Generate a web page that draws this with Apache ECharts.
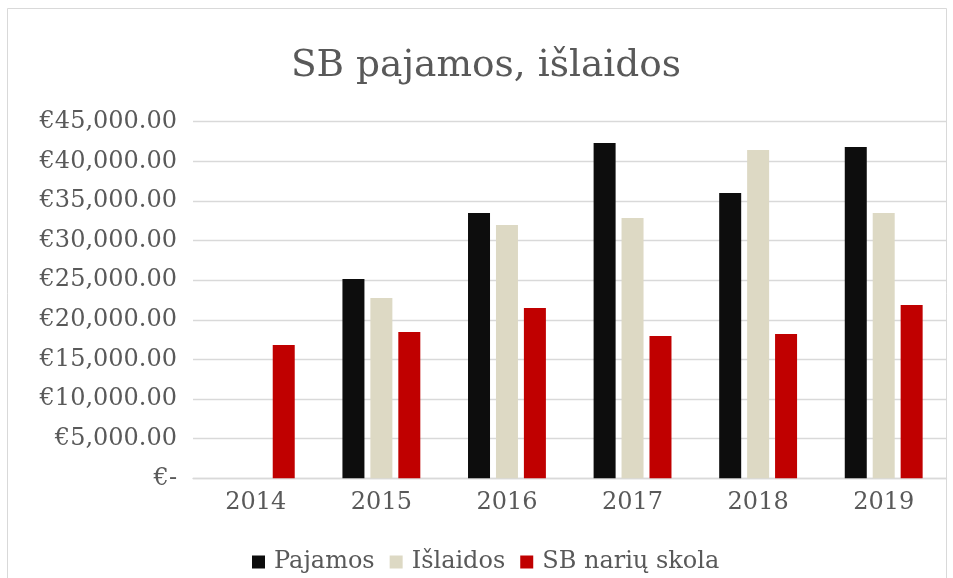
<!DOCTYPE html>
<html>
<head>
<meta charset="utf-8">
<script src="https://cdn.jsdelivr.net/npm/echarts@6/dist/echarts.min.js"></script>
<style>html,body{margin:0;padding:0;background:#fff}#c{width:953px;height:578px}</style>
</head>
<body>
<div id="c"></div>
<script>
const categories = ['2014', '2015', '2016', '2017', '2018', '2019'];
const pajamos = [0, 25150, 33480, 42310, 36000, 41810];
const islaidos = [0, 22750, 31970, 32850, 41430, 33480];
const skola = [16820, 18460, 21490, 17960, 18210, 21870];
const seriesNames = ['Pajamos', 'Išlaidos', 'SB narių skola'];
const titleText = 'SB pajamos, išlaidos';

const font = 'DejaVu Serif';
const txt = '#595959';
const chart = echarts.init(document.getElementById('c'), null, {renderer: 'canvas'});
function fmt(v) {
  if (v === 0) return '€-';
  return '€' + v.toLocaleString('en-US', {minimumFractionDigits: 2, maximumFractionDigits: 2});
}
chart.setOption({
  animation: false,
  backgroundColor: '#fff',
  graphic: [{
    type: 'rect', silent: true, z: -1,
    shape: {x: 7.5, y: 8.5, width: 939, height: 640},
    style: {fill: 'none', stroke: '#d9d9d9', lineWidth: 1}
  }],
  title: {
    text: titleText, left: 486, top: 47, textAlign: 'center', padding: 0,
    textStyle: {fontFamily: font, fontSize: 37.5, fontWeight: 'normal', color: txt}
  },
  legend: {
    data: seriesNames, left: 252, top: 550, padding: 0,
    itemWidth: 13, itemHeight: 13, itemGap: 15,
    icon: 'rect',
    textStyle: {fontFamily: font, fontSize: 24, color: txt, padding: [0, 0, 0, 4]}
  },
  grid: {left: 193, right: 6.5, top: 121.7, bottom: 99.7, containLabel: false},
  xAxis: {
    type: 'category', data: categories,
    axisLine: {lineStyle: {color: '#d9d9d9', width: 1.3}},
    axisTick: {show: false},
    axisLabel: {fontFamily: font, fontSize: 24, color: txt, margin: 12}
  },
  yAxis: {
    type: 'value', min: 0, max: 45000, interval: 5000,
    axisLine: {show: false}, axisTick: {show: false},
    splitLine: {lineStyle: {color: '#d9d9d9', width: 1.3}},
    axisLabel: {fontFamily: font, fontSize: 24, color: txt, margin: 16, formatter: fmt}
  },
  series: [
    {name: seriesNames[0], type: 'bar', data: pajamos, barWidth: 22, barGap: '27%', itemStyle: {color: '#0d0d0d'}},
    {name: seriesNames[1], type: 'bar', data: islaidos, barWidth: 22, barGap: '27%', itemStyle: {color: '#ddd9c4'}},
    {name: seriesNames[2], type: 'bar', data: skola, barWidth: 22, barGap: '27%', itemStyle: {color: '#c00000'}}
  ]
});
</script>
</body>
</html>
